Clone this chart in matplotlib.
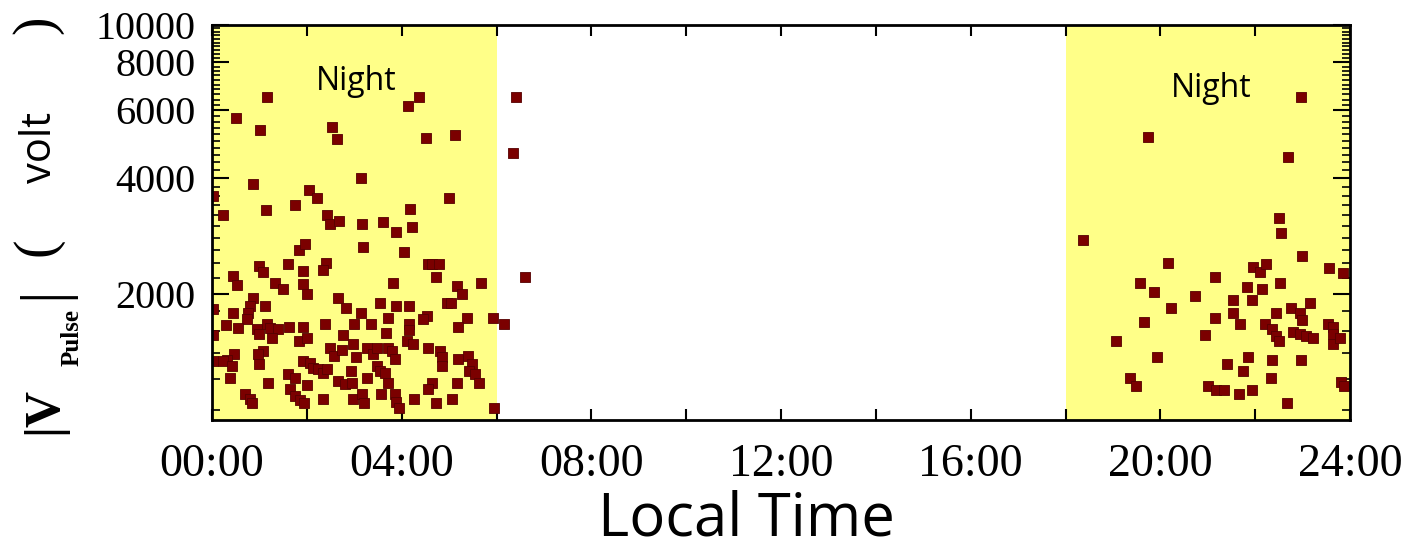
import matplotlib
matplotlib.use("Agg")
import matplotlib.pyplot as plt
from matplotlib.ticker import FixedLocator, FuncFormatter

# night-time pulses, 00:00-06:00
am_hours = [1.16, 0.51, 1.01, 2.53, 2.63, 4.13, 4.36, 4.51, 5.12, 3.14,
            0.86, 2.04, 2.21, 4.99, 4.17, 1.14, 1.75, 0.23, 0.02, 2.42,
            2.48, 2.67, 3.16, 3.60, 3.89, 4.21, 3.18, 1.83, 1.96, 4.04,
            1.60, 2.40, 2.34, 0.99, 1.07, 1.92, 4.55, 4.65, 4.78, 4.72,
            0.44, 0.53, 1.33, 1.49, 1.92, 2.00, 3.81, 5.16, 5.28, 5.68,
            2.65, 2.82, 0.86, 0.80, 0.76, 0.74, 1.12, 3.54, 3.87, 4.15,
            4.95, 5.03, 0.02, 0.44, 3.14, 4.53, 4.44, 3.71, 5.37, 5.92,
            0.29, 0.55, 1.16, 1.22, 0.95, 0.99, 1.39, 1.26, 1.62, 1.92,
            1.83, 2.00, 2.38, 2.99, 3.35, 4.15, 4.15, 5.18, 0.02, 2.76,
            3.68, 4.11, 4.23, 4.55, 4.80, 4.86, 2.48, 2.57, 2.97, 3.26,
            3.39, 3.49, 3.71, 3.79, 3.85, 2.74, 3.03, 1.07, 0.97, 0.99,
            0.46, 0.32, 0.02, 0.23, 0.42, 1.92, 2.06, 2.13, 2.23, 2.34,
            2.42, 5.18, 5.39, 5.49, 5.43, 5.54, 4.86, 3.47, 3.54, 3.64,
            2.93, 3.26, 0.38, 1.60, 1.75, 1.18, 1.64, 2.00, 2.65, 2.80,
            2.95, 3.71, 4.63, 4.55, 5.16, 5.64, 0.69, 0.80, 0.84, 1.75,
            1.85, 1.94, 2.34, 2.97, 3.16, 3.20, 3.56, 3.85, 3.89, 3.94,
            4.25, 4.72, 5.07, 5.94]
am_volts = [6490, 5720, 5320, 5420, 5045, 6150, 6490, 5075, 5165, 3990,
            3870, 3735, 3540, 3540, 3330, 3310, 3410, 3215, 3600, 3215,
            3030, 3100, 3045, 3080, 2900, 2990, 2650, 2605, 2700, 2575,
            2395, 2410, 2310, 2365, 2285, 2295, 2395, 2395, 2395, 2215,
            2230, 2110, 2135, 2060, 2125, 2000, 2135, 2100, 2000, 2135,
            1955, 1840, 1955, 1860, 1785, 1720, 1860, 1895, 1860, 1860,
            1895, 1895, 1830, 1785, 1785, 1755, 1720, 1730, 1730, 1730,
            1660, 1630, 1670, 1630, 1620, 1575, 1620, 1535, 1640, 1640,
            1510, 1535, 1670, 1670, 1670, 1670, 1615, 1640, 1565, 1565,
            1585, 1510, 1480, 1445, 1420, 1370, 1445, 1380, 1480, 1445,
            1395, 1445, 1445, 1420, 1355, 1430, 1370, 1420, 1395, 1315,
            1395, 1345, 1340, 1340, 1300, 1340, 1320, 1285, 1275, 1245,
            1275, 1355, 1380, 1315, 1260, 1240, 1300, 1300, 1260, 1245,
            1260, 1210, 1210, 1240, 1210, 1175, 1130, 1160, 1185, 1165,
            1175, 1175, 1175, 1130, 1175, 1175, 1100, 1065, 1040, 1085,
            1060, 1040, 1065, 1065, 1100, 1040, 1100, 1100, 1050, 1010,
            1065, 1040, 1065, 1010]

# daytime pulses just after 06:00
day_hours = [6.15, 6.34, 6.42, 6.61]
day_volts = [1670, 4640, 6490, 2215]

# night-time pulses, 18:00-24:00
pm_hours = [22.97, 19.73, 22.69, 18.36, 22.51, 22.55, 22.99, 20.17, 21.96, 22.11,
            22.23, 23.56, 23.85, 21.16, 19.58, 19.87, 21.83, 22.15, 22.53, 20.74,
            21.54, 21.94, 20.23, 22.76, 22.95, 22.99, 23.16, 21.54, 21.68, 22.44,
            22.21, 22.36, 22.44, 22.51, 21.16, 19.66, 23.54, 23.64, 23.64, 23.64,
            22.80, 22.95, 23.07, 23.22, 23.79, 20.95, 19.07, 19.94, 21.85, 21.41,
            22.36, 22.97, 21.75, 19.35, 19.49, 22.34, 21.01, 21.18, 21.35, 21.94,
            21.66, 23.81, 23.87, 22.67]
pm_volts = [6490, 5100, 4525, 2765, 3155, 2885, 2515, 2410, 2355, 2285,
            2395, 2340, 2270, 2215, 2135, 2025, 2085, 2060, 2135, 1975,
            1930, 1930, 1840, 1840, 1785, 1710, 1895, 1785, 1670, 1785,
            1670, 1620, 1555, 1510, 1730, 1690, 1670, 1640, 1575, 1480,
            1595, 1575, 1555, 1535, 1535, 1565, 1510, 1370, 1370, 1315,
            1345, 1345, 1260, 1210, 1150, 1210, 1150, 1125, 1125, 1125,
            1100, 1180, 1150, 1040]

night_spans = [(0, 6), (18, 24)]
night_label_pos = [(3.05, 7150), (21.07, 6850)]
x_ticks = [0, 4, 8, 12, 16, 20, 24]
y_ticks = [2000, 4000, 6000, 8000, 10000]

W, H = 1405, 547
fig = plt.figure(figsize=(W / 100, H / 100), dpi=100)
ax = fig.add_axes([212 / W, 1 - 420 / H, (1350 - 212) / W, (420 - 25) / H])

serif = 'Liberation Serif'
yellow = '#ffff88'
marker_col = '#7b0000'

for a, b in night_spans:
    ax.axvspan(a, b, color=yellow, lw=0, zorder=0)

for hx, vy in [(am_hours, am_volts), (day_hours, day_volts), (pm_hours, pm_volts)]:
    ax.scatter(hx, vy, marker='s', s=62, c=marker_col, edgecolors='#550000',
               linewidths=0.6, zorder=3)

for (hx, vy) in night_label_pos:
    ax.text(hx, vy, 'Night', ha='center', va='center', fontsize=23,
            family='Open Sans', color='black', zorder=4)

ax.set_yscale('log')
ax.set_xlim(0, 24)
ax.set_ylim(940, 10000)

ax.xaxis.set_major_locator(FixedLocator(x_ticks))
ax.xaxis.set_minor_locator(FixedLocator(list(range(2, 24, 4))))
ax.xaxis.set_major_formatter(FuncFormatter(lambda v, p: '%02d:00' % int(round(v))))

ax.yaxis.set_major_locator(FixedLocator(y_ticks))
ax.yaxis.set_minor_locator(FixedLocator([v for v in range(1000, 10000, 200) if v % 2000]))
ax.yaxis.set_major_formatter(FuncFormatter(lambda v, p: '%d' % v))
ax.yaxis.set_minor_formatter(FuncFormatter(lambda v, p: ''))

ax.tick_params(which='both', direction='in', top=True, right=True, color='black')
ax.tick_params(axis='x', which='both', length=8, width=1.5, pad=17)
ax.tick_params(axis='y', which='major', length=12, width=1.5, pad=12)
ax.tick_params(axis='y', which='minor', length=6, width=1.2)
for lab in ax.get_xticklabels():
    lab.set_family(serif)
    lab.set_fontsize(33)
for lab in ax.get_yticklabels():
    lab.set_family(serif)
    lab.set_fontsize(29)

for sp in ax.spines.values():
    sp.set_linewidth(2)
    sp.set_zorder(5)

fig.text(746 / W, 1 - 519 / H, 'Local Time', ha='center', va='center',
         fontsize=43, family='Open Sans')

# y label pieces: |V_Pulse| ( volt )
def ylab(px, py, s, **kw):
    fig.text(px / W, 1 - py / H, s, rotation=90, ha='center', va='center', **kw)

ylab(44, 410, '|V', fontsize=36, family=serif, fontweight='bold')
ylab(72, 338, 'Pulse', fontsize=18, family=serif, fontweight='bold')
ylab(45, 293, '|', fontsize=46, family=serif)
ylab(37, 247, '(', fontsize=40, family=serif)
ylab(40, 147, 'volt', fontsize=30, family='Open Sans')
ylab(37, 25, ')', fontsize=40, family=serif)

fig.savefig('out.png', dpi=100)
